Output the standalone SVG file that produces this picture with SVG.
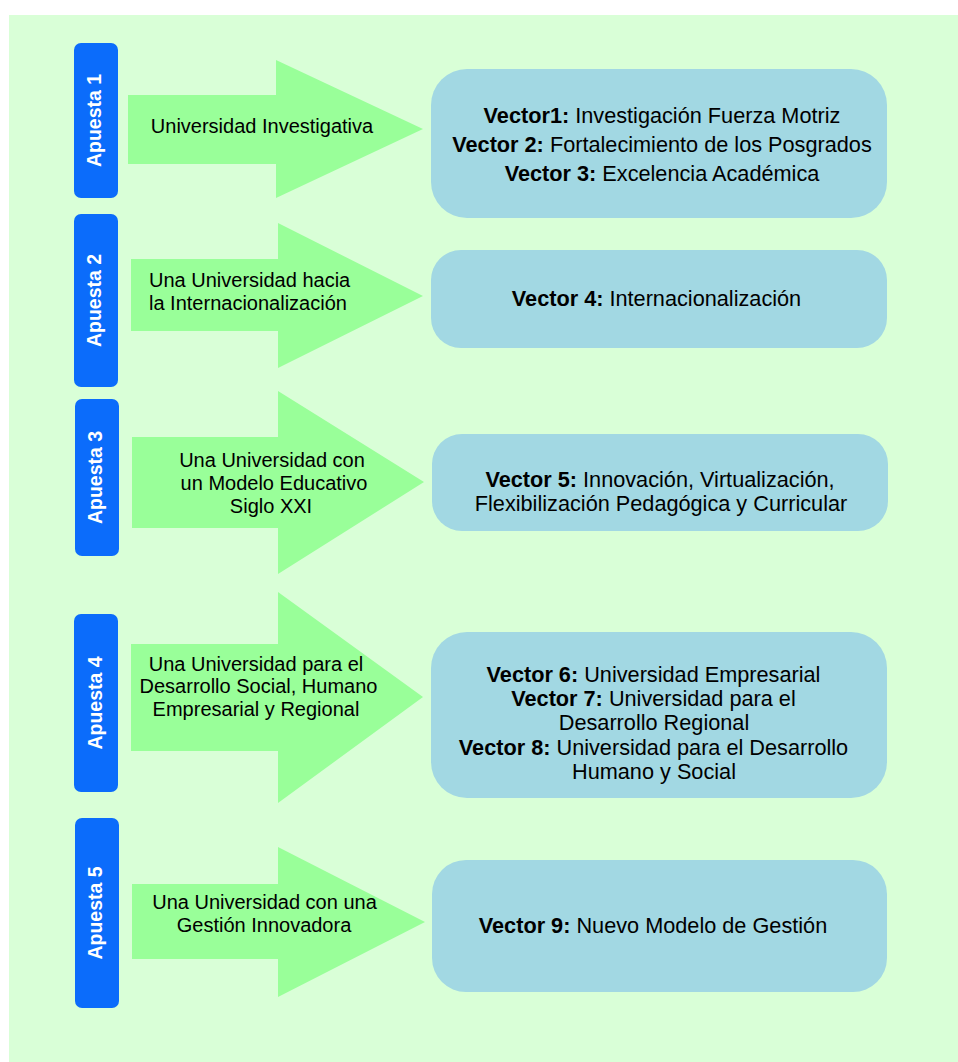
<svg xmlns="http://www.w3.org/2000/svg" width="958" height="1062" viewBox="0 0 958 1062">
<style>
.bar{fill:#0b6cfb}
.arr{fill:#99ff99}
.box{fill:#a2d8e3}
.bt{font-family:"Liberation Sans",Arial,sans-serif;font-weight:bold;font-size:19.5px;fill:#ffffff;text-anchor:middle}
.at{font-family:"Liberation Sans",Arial,sans-serif;font-size:20px;fill:#000}
.vt{font-family:"Liberation Sans",Arial,sans-serif;font-size:21.7px;fill:#000;text-anchor:middle}
.b{font-weight:bold}
</style>
<rect width="958" height="1062" fill="#ffffff"/>
<rect x="9" y="15" width="949" height="1047" fill="#d9ffd7"/>

<g id="apuesta1">
<rect class="bar" x="74" y="43" width="44" height="155" rx="7"/>
<text class="bt" transform="translate(101,120.5) rotate(-90)">Apuesta 1</text>
</g>
<g id="apuesta2">
<rect class="bar" x="74" y="214" width="44" height="173" rx="7"/>
<text class="bt" transform="translate(101,300.5) rotate(-90)">Apuesta 2</text>
</g>
<g id="apuesta3">
<rect class="bar" x="75" y="399" width="44" height="157" rx="7"/>
<text class="bt" transform="translate(102,477.5) rotate(-90)">Apuesta 3</text>
</g>
<g id="apuesta4">
<rect class="bar" x="74" y="614" width="44" height="178" rx="7"/>
<text class="bt" transform="translate(102,703) rotate(-90)">Apuesta 4</text>
</g>
<g id="apuesta5">
<rect class="bar" x="75" y="818" width="44" height="190" rx="7"/>
<text class="bt" transform="translate(102,913) rotate(-90)">Apuesta 5</text>
</g>

<g id="connectors">
<g id="arrow1">
<polygon class="arr" points="128,95 276,95 276,60 423,129 276,198 276,164 128,164"/>
<text class="at" x="262" y="133" text-anchor="middle">Universidad Investigativa</text>
</g>
<g id="arrow2">
<polygon class="arr" points="131,259 278,259 278,223 423,296 278,368 278,331 131,331"/>
<text class="at" x="149" y="287">Una Universidad hacia</text>
<text class="at" x="149" y="310">la Internacionalización</text>
</g>
<g id="arrow3">
<polygon class="arr" points="132,437 278,437 278,391 424,482 278,574 278,528 132,528"/>
<text class="at" x="272" y="467" text-anchor="middle">Una Universidad con</text>
<text class="at" x="274" y="490" text-anchor="middle">un Modelo Educativo</text>
<text class="at" x="271" y="513" text-anchor="middle">Siglo XXI</text>
</g>
<g id="arrow4">
<polygon class="arr" points="131,644 278,644 278,592 423,697 278,803 278,751 131,751"/>
<text class="at" x="256" y="671" text-anchor="middle">Una Universidad para el</text>
<text class="at" x="258.5" y="693" text-anchor="middle">Desarrollo Social, Humano</text>
<text class="at" x="256" y="716" text-anchor="middle">Empresarial y Regional</text>
</g>
<g id="arrow5">
<polygon class="arr" points="132,884 278,884 278,847 425,922 278,997 278,959 132,959"/>
<text class="at" x="264.5" y="909" text-anchor="middle">Una Universidad con una</text>
<text class="at" x="264" y="932" text-anchor="middle">Gestión Innovadora</text>
</g>
</g>

<g id="vector1-3">
<rect class="box" x="431" y="69" width="456" height="149" rx="36"/>
<text class="vt" x="662" y="123"><tspan class="b">Vector1:</tspan> Investigación Fuerza Motriz</text>
<text class="vt" x="662" y="152"><tspan class="b">Vector 2:</tspan> Fortalecimiento de los Posgrados</text>
<text class="vt" x="662" y="181"><tspan class="b">Vector 3:</tspan> Excelencia Académica</text>
</g>
<g id="vector4">
<rect class="box" x="431" y="250" width="456" height="98" rx="30"/>
<text class="vt" x="656.5" y="306"><tspan class="b">Vector 4:</tspan> Internacionalización</text>
</g>
<g id="vector5">
<rect class="box" x="432" y="434" width="456" height="97" rx="30"/>
<text class="vt" x="660" y="487"><tspan class="b">Vector 5:</tspan> Innovación, Virtualización,</text>
<text class="vt" x="661" y="511">Flexibilización Pedagógica y Curricular</text>
</g>
<g id="vector6-8">
<rect class="box" x="431" y="632" width="456" height="166" rx="36"/>
<text class="vt" x="653.5" y="682"><tspan class="b">Vector 6:</tspan> Universidad Empresarial</text>
<text class="vt" x="653.5" y="706"><tspan class="b">Vector 7:</tspan> Universidad para el</text>
<text class="vt" x="654" y="730">Desarrollo Regional</text>
<text class="vt" x="653.5" y="755"><tspan class="b">Vector 8:</tspan> Universidad para el Desarrollo</text>
<text class="vt" x="654" y="779">Humano y Social</text>
</g>
<g id="vector9">
<rect class="box" x="432" y="860" width="455" height="132" rx="34"/>
<text class="vt" x="653" y="933"><tspan class="b">Vector 9:</tspan> Nuevo Modelo de Gestión</text>
</g>
</svg>
